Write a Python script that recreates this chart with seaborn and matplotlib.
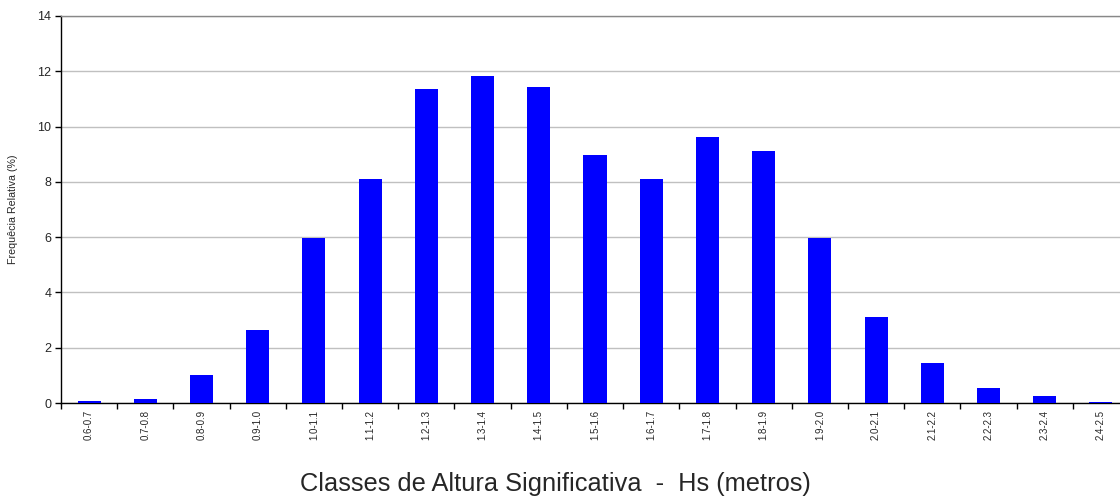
import numpy as np
import pandas as pd
import matplotlib
matplotlib.use("Agg")
import matplotlib.pyplot as plt
from matplotlib.ticker import FixedLocator
import seaborn as sns

# Data
classes = ["0.6-0.7", "0.7-0.8", "0.8-0.9", "0.9-1.0", "1.0-1.1", "1.1-1.2",
           "1.2-1.3", "1.3-1.4", "1.4-1.5", "1.5-1.6", "1.6-1.7", "1.7-1.8",
           "1.8-1.9", "1.9-2.0", "2.0-2.1", "2.1-2.2", "2.2-2.3", "2.3-2.4",
           "2.4-2.5"]
freq = [0.08, 0.15, 1.01, 2.64, 5.97, 8.10, 11.36, 11.83, 11.43, 8.97,
        8.10, 9.62, 9.12, 5.98, 3.11, 1.45, 0.54, 0.25, 0.05]
y_ticks = [0, 2, 4, 6, 8, 10, 12, 14]

df = pd.DataFrame({"classe": classes, "freq": freq})

sns.set_style("white")
plt.rcParams["font.family"] = ["Liberation Sans", "DejaVu Sans"]

W, H = 1120, 503
fig = plt.figure(figsize=(W / 100, H / 100), dpi=100)
ax = fig.add_axes([61 / W, (H - 403) / H, 1068 / W, 387 / H])

sns.barplot(data=df, x="classe", y="freq", color="#0000ff", width=0.41,
            saturation=1, linewidth=0, edgecolor="none", ax=ax, zorder=3)

ax.set_xlim(-0.5, len(classes) - 0.5)
ax.set_ylim(0, 14)
ax.set_yticks(y_ticks)
ax.set_yticklabels([str(v) for v in y_ticks], fontsize=9)
ax.yaxis.grid(True, color="#c0c0c0", linewidth=1, zorder=0)
ax.xaxis.grid(False)

ax.set_xticks(range(len(classes)))
ax.set_xticklabels(classes, rotation=90, fontsize=7)
ax.xaxis.set_minor_locator(FixedLocator(np.arange(len(classes) + 1) - 0.5))
ax.tick_params(axis="x", which="major", length=0, pad=5)
ax.tick_params(axis="x", which="minor", length=4, width=1, color="black",
               direction="out", bottom=True)
ax.tick_params(axis="y", which="major", length=4, width=1, color="black",
               direction="out", left=True, pad=3)

for side in ["left", "bottom"]:
    ax.spines[side].set_color("black")
    ax.spines[side].set_linewidth(1)
ax.spines["top"].set_color("#888888")
ax.spines["top"].set_linewidth(1)
ax.spines["right"].set_visible(False)

ax.set_xlabel("")
ax.set_ylabel("")
fig.text(13 / W, 1 - 209 / H, "Frequêcia Relativa (%)", rotation=90,
         fontsize=7.7, ha="center", va="center")
fig.text(555 / W, 1 - 484 / H, "Classes de Altura Significativa  -  Hs (metros)",
         fontsize=18.3, ha="center", va="center")

fig.savefig("out.png", dpi=100)
